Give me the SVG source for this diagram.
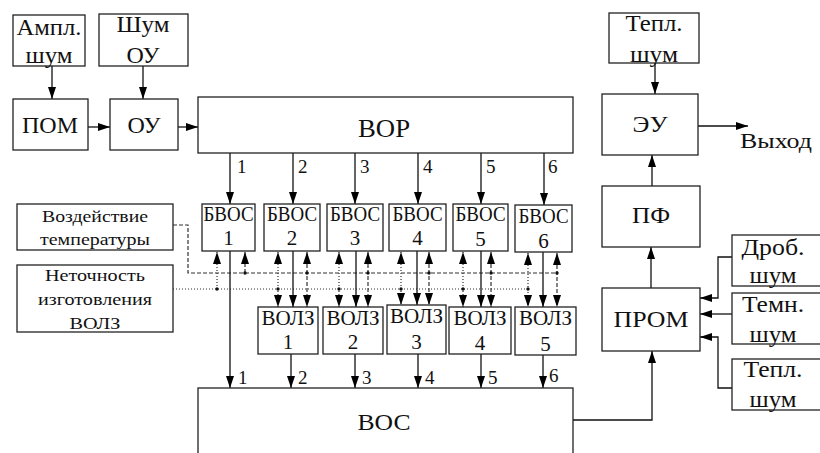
<svg xmlns="http://www.w3.org/2000/svg" width="820" height="453" viewBox="0 0 820 453">
<defs>
<marker id="ah" viewBox="0 0 12 8" refX="12" refY="4" markerWidth="12" markerHeight="8" markerUnits="userSpaceOnUse" orient="auto-start-reverse"><path d="M0,0 L12,4 L0,8 z" fill="#000"/></marker>
<style>
text{font-family:'Liberation Serif','Times New Roman',Times,Tinos,'Noto Serif','DejaVu Serif',FreeSerif,serif}
.b{fill:#fff;stroke:#222;stroke-width:1.3}
.t{fill:#111;text-anchor:middle}
.l{fill:#111;font-size:19px}
.s{fill:none;stroke:#111;stroke-width:1.3}
.a{marker-end:url(#ah)}
.dd{fill:none;stroke:#333;stroke-width:1.2;stroke-dasharray:4 2}
.dt{fill:none;stroke:#333;stroke-width:1.2;stroke-dasharray:1 2}
.both{marker-start:url(#ah);marker-end:url(#ah)}
.f24{font-size:24px}.f26{font-size:26px}.f21{font-size:21px}.f17{font-size:17px}.f23{font-size:23px}
</style>
</defs>
<rect width="820" height="453" fill="#fff"/>
<g id="connectors">
<path class="s a" d="M52,66 V99"/>
<path class="s a" d="M143,66 V99"/>
<path class="s a" d="M88,127 H110"/>
<path class="s a" d="M178,127 H198"/>
<path class="s a" d="M230,153 V204"/>
<path class="s a" d="M293,153 V204"/>
<path class="s a" d="M355,153 V204"/>
<path class="s a" d="M418,153 V204"/>
<path class="s a" d="M481,153 V204"/>
<path class="s a" d="M544,153 V205"/>
<text class="l" x="237" y="173">1</text>
<text class="l" x="298" y="173">2</text>
<text class="l" x="360" y="173">3</text>
<text class="l" x="423" y="173">4</text>
<text class="l" x="486" y="173">5</text>
<text class="l" x="548" y="173">6</text>
<path class="dd" d="M173,225 H188 V273 H557"/>
<path class="dt" d="M173,289 H528"/>
<path class="s a" d="M230,251 V388"/>
<path class="dt a" d="M217,289 V252"/>
<path class="dd a" d="M245,273 V252"/>
<path class="dt both" d="M278,252 V307"/>
<path class="s a" d="M293,251 V307"/>
<path class="dd both" d="M307,252 V307"/>
<path class="dt both" d="M339,252 V307"/>
<path class="s a" d="M356,251 V307"/>
<path class="dd both" d="M368,252 V307"/>
<path class="dt both" d="M401,252 V305"/>
<path class="s a" d="M417,251 V305"/>
<path class="dd both" d="M429,252 V305"/>
<path class="dt both" d="M463,252 V307"/>
<path class="s a" d="M481,251 V307"/>
<path class="dd both" d="M491,252 V307"/>
<path class="dt both" d="M528,253 V307"/>
<path class="s a" d="M543,252 V307"/>
<path class="dd both" d="M557,253 V307"/>
<g fill="#111">
<circle cx="217" cy="289" r="1.7"/><circle cx="245" cy="273" r="1.7"/>
<circle cx="278" cy="289" r="1.7"/><circle cx="307" cy="273" r="1.7"/>
<circle cx="339" cy="289" r="1.7"/><circle cx="368" cy="273" r="1.7"/>
<circle cx="401" cy="289" r="1.7"/><circle cx="429" cy="273" r="1.7"/>
<circle cx="463" cy="289" r="1.7"/><circle cx="491" cy="273" r="1.7"/>
<circle cx="528" cy="289" r="1.7"/><circle cx="557" cy="273" r="1.7"/>
</g>
<path class="s a" d="M291,354 V388"/>
<path class="s a" d="M355,354 V388"/>
<path class="s a" d="M418,354 V388"/>
<path class="s a" d="M481,354 V388"/>
<path class="s a" d="M543,355 V388"/>
<text class="l" x="238" y="384">1</text>
<text class="l" x="298" y="384">2</text>
<text class="l" x="362" y="384">3</text>
<text class="l" x="425" y="384">4</text>
<text class="l" x="488" y="384">5</text>
<text class="l" x="549" y="382">6</text>
<path class="s a" d="M573,420 H652 V351"/>
<path class="s a" d="M651,288 V247"/>
<path class="s a" d="M652,186 V155"/>
<path class="s a" d="M655,63 V94"/>
<path class="s a" d="M698,126 H748"/>
<path class="s a" d="M732,257 H718 V298 H700"/>
<path class="s a" d="M732,314 H700"/>
<path class="s a" d="M732,388 H718 V337 H700"/>
</g>
<g id="ampl"><rect class="b" x="13" y="15" width="72" height="51"/><text class="t f24" x="49" y="35" textLength="65" lengthAdjust="spacingAndGlyphs">Ампл.</text><text class="t f24" x="49" y="63" textLength="47" lengthAdjust="spacingAndGlyphs">шум</text></g>
<g id="shumOU"><rect class="b" x="99" y="14" width="89" height="52"/><text class="t f24" x="143" y="32" textLength="53" lengthAdjust="spacingAndGlyphs">Шум</text><text class="t f24" x="143" y="63" textLength="33" lengthAdjust="spacingAndGlyphs">ОУ</text></g>
<g id="pom"><rect class="b" x="13" y="99" width="75" height="51"/><text class="t f24" x="50" y="133" textLength="56" lengthAdjust="spacingAndGlyphs">ПОМ</text></g>
<g id="ou"><rect class="b" x="110" y="99" width="68" height="51"/><text class="t f24" x="144" y="133" textLength="33" lengthAdjust="spacingAndGlyphs">ОУ</text></g>
<g id="vor"><rect class="b" x="198" y="97" width="375" height="56"/><text class="t f26" x="384" y="137" textLength="52" lengthAdjust="spacingAndGlyphs">ВОР</text></g>
<g id="bvos1"><rect class="b" x="202" y="204" width="53" height="47"/><text class="t f21" x="228.5" y="221" textLength="50" lengthAdjust="spacingAndGlyphs">БВОС</text><text class="t f21" x="228.5" y="245">1</text></g>
<g id="bvos2"><rect class="b" x="264" y="204" width="56" height="47"/><text class="t f21" x="292" y="221" textLength="50" lengthAdjust="spacingAndGlyphs">БВОС</text><text class="t f21" x="292" y="245">2</text></g>
<g id="bvos3"><rect class="b" x="327" y="204" width="56" height="47"/><text class="t f21" x="355" y="221" textLength="50" lengthAdjust="spacingAndGlyphs">БВОС</text><text class="t f21" x="355" y="245">3</text></g>
<g id="bvos4"><rect class="b" x="389" y="204" width="57" height="47"/><text class="t f21" x="417.5" y="221" textLength="50" lengthAdjust="spacingAndGlyphs">БВОС</text><text class="t f21" x="417.5" y="245">4</text></g>
<g id="bvos5"><rect class="b" x="453" y="204" width="55" height="47"/><text class="t f21" x="480.5" y="221" textLength="50" lengthAdjust="spacingAndGlyphs">БВОС</text><text class="t f21" x="480.5" y="246">5</text></g>
<g id="bvos6"><rect class="b" x="515" y="205" width="57" height="47"/><text class="t f21" x="543.5" y="223" textLength="50" lengthAdjust="spacingAndGlyphs">БВОС</text><text class="t f21" x="543.5" y="248">6</text></g>
<g id="temp"><rect class="b" x="17" y="204" width="156" height="46"/><text class="t f17" x="95" y="222" textLength="106" lengthAdjust="spacingAndGlyphs">Воздействие</text><text class="t f17" x="95" y="245" textLength="110" lengthAdjust="spacingAndGlyphs">температуры</text></g>
<g id="neto"><rect class="b" x="17" y="265" width="156" height="67"/><text class="t f17" x="95" y="281" textLength="100" lengthAdjust="spacingAndGlyphs">Неточность</text><text class="t f17" x="95" y="305" textLength="114" lengthAdjust="spacingAndGlyphs">изготовления</text><text class="t f17" x="95" y="329" textLength="51" lengthAdjust="spacingAndGlyphs">ВОЛЗ</text></g>
<g id="volz1"><rect class="b" x="258" y="307" width="60" height="47"/><text class="t f21" x="288" y="325" textLength="53" lengthAdjust="spacingAndGlyphs">ВОЛЗ</text><text class="t f21" x="288" y="349">1</text></g>
<g id="volz2"><rect class="b" x="323" y="307" width="60" height="47"/><text class="t f21" x="353" y="325" textLength="53" lengthAdjust="spacingAndGlyphs">ВОЛЗ</text><text class="t f21" x="353" y="349">2</text></g>
<g id="volz3"><rect class="b" x="387" y="305" width="59" height="49"/><text class="t f21" x="416.5" y="323" textLength="53" lengthAdjust="spacingAndGlyphs">ВОЛЗ</text><text class="t f21" x="416.5" y="349">3</text></g>
<g id="volz4"><rect class="b" x="449" y="307" width="62" height="47"/><text class="t f21" x="480" y="325" textLength="53" lengthAdjust="spacingAndGlyphs">ВОЛЗ</text><text class="t f21" x="480" y="350">4</text></g>
<g id="volz5"><rect class="b" x="515" y="307" width="61" height="48"/><text class="t f21" x="545.5" y="325" textLength="53" lengthAdjust="spacingAndGlyphs">ВОЛЗ</text><text class="t f21" x="545.5" y="351">5</text></g>
<g id="vos"><rect class="b" x="198" y="388" width="375" height="80"/><text class="t f24" x="384" y="430" textLength="53" lengthAdjust="spacingAndGlyphs">ВОС</text></g>
<g id="teplTop"><rect class="b" x="609" y="13" width="90" height="50"/><text class="t f24" x="654" y="31" textLength="57" lengthAdjust="spacingAndGlyphs">Тепл.</text><text class="t f24" x="654" y="62" textLength="48" lengthAdjust="spacingAndGlyphs">шум</text></g>
<g id="eu"><rect class="b" x="602" y="94" width="96" height="61"/><text class="t f24" x="650" y="132" textLength="35" lengthAdjust="spacingAndGlyphs">ЭУ</text></g>
<g id="pf"><rect class="b" x="602" y="186" width="98" height="61"/><text class="t f24" x="651" y="223" textLength="38" lengthAdjust="spacingAndGlyphs">ПФ</text></g>
<g id="prom"><rect class="b" x="602" y="288" width="98" height="63"/><text class="t f24" x="651" y="327" textLength="75" lengthAdjust="spacingAndGlyphs">ПРОМ</text></g>
<g id="vyhod"><text class="t" style="font-size:22px" x="776" y="148" textLength="72" lengthAdjust="spacingAndGlyphs">Выход</text></g>
<g id="drob"><rect class="b" x="732" y="235" width="100" height="51"/><text class="t f23" x="773" y="255" textLength="63" lengthAdjust="spacingAndGlyphs">Дроб.</text><text class="t f23" x="773" y="283" textLength="47" lengthAdjust="spacingAndGlyphs">шум</text></g>
<g id="temn"><rect class="b" x="732" y="293" width="100" height="51"/><text class="t f23" x="773" y="312" textLength="62" lengthAdjust="spacingAndGlyphs">Темн.</text><text class="t f23" x="773" y="342" textLength="47" lengthAdjust="spacingAndGlyphs">шум</text></g>
<g id="tepl2"><rect class="b" x="732" y="359" width="100" height="51"/><text class="t f23" x="773" y="377" textLength="59" lengthAdjust="spacingAndGlyphs">Тепл.</text><text class="t f23" x="773" y="407" textLength="47" lengthAdjust="spacingAndGlyphs">шум</text></g>
</svg>
